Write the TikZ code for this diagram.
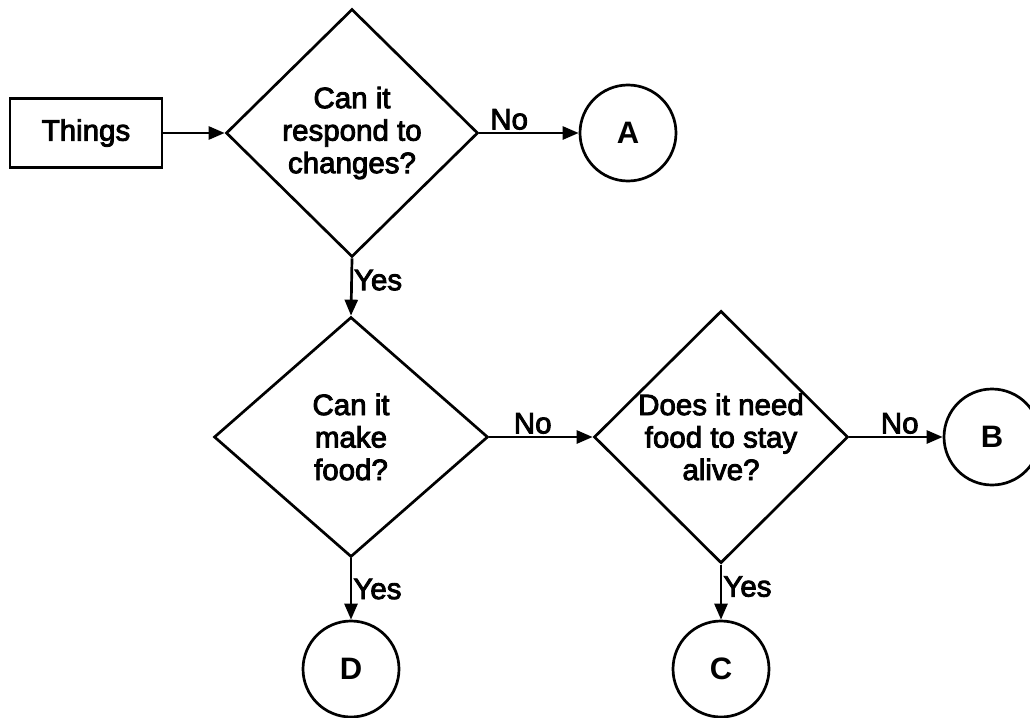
\documentclass[tikz,border=0pt]{standalone}
\usepackage{fontspec}
\setmainfont{Liberation Sans}
\newfontfamily\inkfont{Liberation Sans}[FakeBold=3]
\usetikzlibrary{shapes.geometric,arrows.meta}

\tikzset{
  every picture/.style={x=1pt,y=-1pt},
  line/.style={line width=2.7pt},
  txt/.style={font=\inkfont\fontsize{29.5}{32.5}\selectfont, align=center},
  startbox/.style={line, draw, txt, minimum width=152pt, minimum height=69pt, inner sep=0pt},
  decision/.style={line, draw, diamond, txt, inner sep=0pt},
  terminal/.style={line, draw, circle, minimum size=96pt, inner sep=0pt,
                   font=\fontsize{31}{34}\selectfont\bfseries},
  flow/.style={line, -{Triangle[length=16pt,width=13pt]}},
  lbl/.style={font=\inkfont\fontsize{29.5}{32}\selectfont, inner sep=2pt}
}

\begin{document}
\begin{tikzpicture}
  \useasboundingbox (0,0) rectangle (1030,717);
  \clip (0,0) rectangle (1030,717);

  % boxes, decisions and end points
  \node[startbox] (things) at (86,133) {Things};
  \node[decision, minimum width=252pt, minimum height=248pt] (q1) at (352,133)
       {Can it\\respond to\\changes?};
  \node[terminal] (A) at (628,133) {A};

  \node[decision, minimum width=274pt, minimum height=240pt] (q2) at (351,437)
       {Can it\\make\\food?};
  \node[decision, minimum width=254pt, minimum height=240pt] (q3) at (721,437)
       {Does it need\\food to stay\\alive?};
  \node[terminal] (B) at (992,437) {B};

  \node[terminal] (D) at (351,669) {D};
  \node[terminal] (C) at (721,669) {C};

  % connectors
  \draw[flow] (things.east) -- (q1.west);
  \draw[flow] (q1.east) -- node[lbl, pos=0.3, above] {No} (A.west);
  \draw[flow] (q1.south) -- node[lbl, pos=0.38, right, inner sep=1pt] {Yes} (q2.north);
  \draw[flow] (q2.east) -- node[lbl, pos=0.42, above] {No} (q3.west);
  \draw[flow] (q3.east) -- node[lbl, pos=0.54, above] {No} (B.west);
  \draw[flow] (q2.south) -- node[lbl, pos=0.5, right, inner sep=1pt] {Yes} (D.north);
  \draw[flow] (q3.south) -- node[lbl, pos=0.4, right, inner sep=1pt] {Yes} (C.north);
\end{tikzpicture}
\end{document}
